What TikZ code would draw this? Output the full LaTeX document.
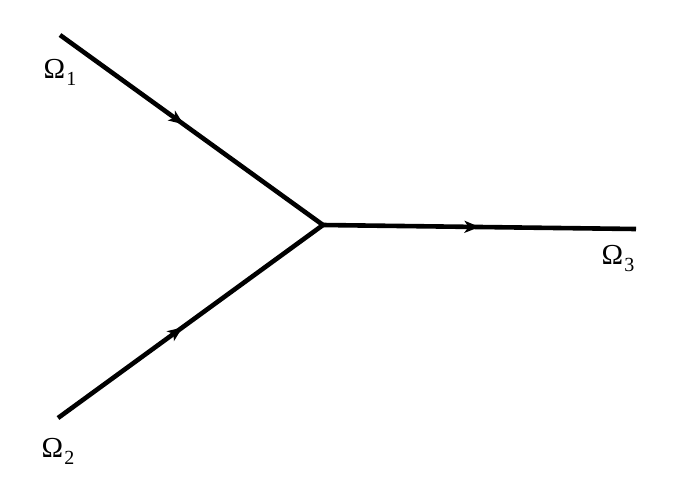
\documentclass[tikz,border=0pt]{standalone}
\usepackage{fontspec}
\newfontfamily\labfont{Liberation Serif}
\usetikzlibrary{arrows.meta,decorations.markings}
\newcommand{\omlab}[1]{Ω\kern1pt\raisebox{-7pt}{\fontsize{20}{22}\selectfont #1}}
\begin{document}
\begin{tikzpicture}[x=1pt,y=-1pt,
  flow/.style={line width=4.6pt,postaction={decorate},
    decoration={markings,mark=at position #1 with {\arrow{Stealth[length=15pt,width=12pt,inset=4pt]}}}},
  lab/.style={inner sep=0pt,font=\labfont\fontsize{29}{32}\selectfont}]
\useasboundingbox (0,0) rectangle (674,483);
\coordinate (a) at (60,35);
\coordinate (b) at (58,418);
\coordinate (c) at (323,225);
\coordinate (d) at (636,229);
\draw[flow=0.47] (a) -- (c);
\draw[flow=0.47] (b) -- (c);
\draw[flow=0.5] (c) -- (d);
\node[lab] (l1) at (60,72) {\omlab{1}};
\node[lab] (l2) at (58,451) {\omlab{2}};
\node[lab] (l3) at (618,258) {\omlab{3}};
\end{tikzpicture}
\end{document}
